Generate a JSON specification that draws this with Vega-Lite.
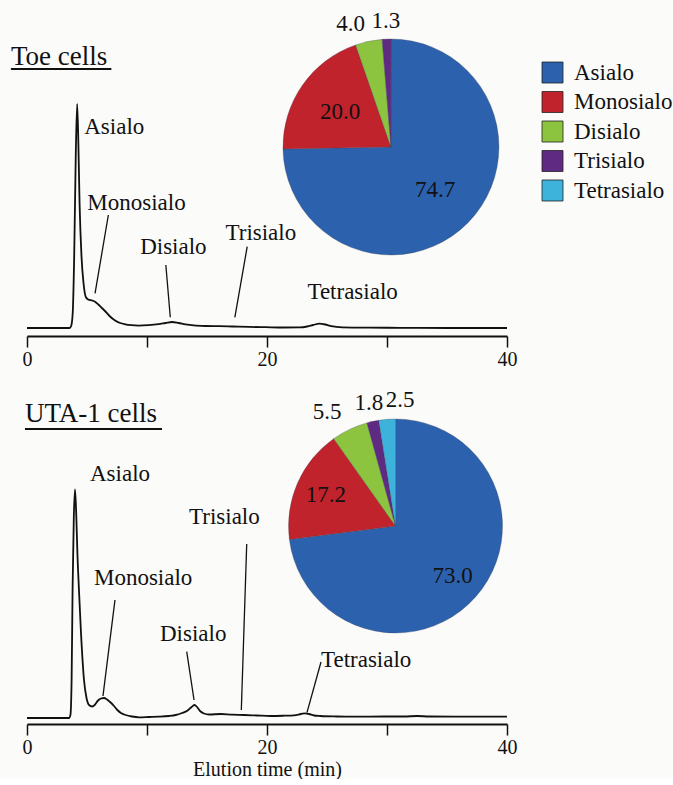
{
  "$schema": "https://vega.github.io/schema/vega-lite/v6.json",
  "background": "#fbfbf9",
  "padding": {"left": 10, "top": 10, "right": 0, "bottom": 0},
  "bounds": "flush",
  "spacing": 88,
  "config": {
    "font": "Liberation Serif",
    "view": {"stroke": null},
    "axis": {
      "domainColor": "#111", "domainWidth": 2,
      "tickColor": "#111", "tickWidth": 1.5, "tickSize": 11,
      "labelFont": "Liberation Serif", "labelFontSize": 20, "labelColor": "#111", "labelPadding": 2, "labelFlush": false,
      "titleFont": "Liberation Serif", "titleFontSize": 20, "titleFontWeight": "normal", "titleColor": "#111", "titlePadding": 2,
      "grid": false
    }
  },
  "datasets": {
    "toe_trace": [
      {"time": 0, "signal": 0}, {"time": 1.8, "signal": 0}, {"time": 3.55, "signal": 0}, {"time": 3.68, "signal": 2},
      {"time": 3.81, "signal": 15}, {"time": 3.93, "signal": 70}, {"time": 4.06, "signal": 170}, {"time": 4.18, "signal": 224},
      {"time": 4.28, "signal": 185}, {"time": 4.38, "signal": 125}, {"time": 4.54, "signal": 72}, {"time": 4.71, "signal": 45},
      {"time": 4.9, "signal": 31}, {"time": 5.1, "signal": 28.5}, {"time": 5.44, "signal": 27.5}, {"time": 5.7, "signal": 26},
      {"time": 5.94, "signal": 23.5}, {"time": 6.2, "signal": 20.5}, {"time": 6.5, "signal": 17}, {"time": 6.92, "signal": 11.5},
      {"time": 7.34, "signal": 7.5}, {"time": 7.76, "signal": 5}, {"time": 8.18, "signal": 3.7}, {"time": 8.7, "signal": 2.8},
      {"time": 9.29, "signal": 2.4}, {"time": 10.13, "signal": 2.8}, {"time": 10.96, "signal": 3.8}, {"time": 11.55, "signal": 5},
      {"time": 12.08, "signal": 6}, {"time": 12.64, "signal": 5}, {"time": 13.2, "signal": 3.7}, {"time": 13.9, "signal": 2.6},
      {"time": 14.87, "signal": 2}, {"time": 16.0, "signal": 1.8}, {"time": 17.1, "signal": 1.5}, {"time": 18.5, "signal": 1.1},
      {"time": 19.9, "signal": 0.8}, {"time": 21.4, "signal": 0.5}, {"time": 22.7, "signal": 0.6}, {"time": 23.35, "signal": 1.5},
      {"time": 23.85, "signal": 3}, {"time": 24.35, "signal": 4.3}, {"time": 24.85, "signal": 3.5}, {"time": 25.36, "signal": 1.8},
      {"time": 26.28, "signal": 0.6}, {"time": 28.5, "signal": 0.3}, {"time": 31.05, "signal": 0.2}, {"time": 35.2, "signal": 0},
      {"time": 40, "signal": 0}
    ],
    "uta_trace": [
      {"time": 0, "signal": 0}, {"time": 1.8, "signal": 0}, {"time": 3.5, "signal": 0}, {"time": 3.62, "signal": 3},
      {"time": 3.72, "signal": 40}, {"time": 3.8, "signal": 130}, {"time": 3.9, "signal": 200}, {"time": 4.0, "signal": 228.7},
      {"time": 4.1, "signal": 205}, {"time": 4.2, "signal": 165}, {"time": 4.33, "signal": 128}, {"time": 4.5, "signal": 85},
      {"time": 4.75, "signal": 38}, {"time": 4.96, "signal": 20}, {"time": 5.17, "signal": 13}, {"time": 5.44, "signal": 11.5},
      {"time": 5.67, "signal": 13.5}, {"time": 5.92, "signal": 17.5}, {"time": 6.17, "signal": 19.5}, {"time": 6.42, "signal": 20},
      {"time": 6.67, "signal": 18.5}, {"time": 6.97, "signal": 15.5}, {"time": 7.25, "signal": 12}, {"time": 7.53, "signal": 8},
      {"time": 7.83, "signal": 5}, {"time": 8.22, "signal": 3}, {"time": 8.75, "signal": 1.5}, {"time": 9.33, "signal": 0.7},
      {"time": 10.17, "signal": 1}, {"time": 11.0, "signal": 1.3}, {"time": 11.83, "signal": 2}, {"time": 12.39, "signal": 3},
      {"time": 12.92, "signal": 5}, {"time": 13.36, "signal": 7.3}, {"time": 13.67, "signal": 10.5}, {"time": 13.96, "signal": 13},
      {"time": 14.17, "signal": 11}, {"time": 14.42, "signal": 7}, {"time": 14.75, "signal": 4.5}, {"time": 15.17, "signal": 3.5},
      {"time": 16.14, "signal": 4}, {"time": 17.08, "signal": 3.3}, {"time": 18.08, "signal": 3}, {"time": 19.17, "signal": 2.5},
      {"time": 20.31, "signal": 2}, {"time": 21.42, "signal": 2.3}, {"time": 22.25, "signal": 2.7}, {"time": 22.83, "signal": 4},
      {"time": 23.17, "signal": 4.7}, {"time": 23.5, "signal": 4}, {"time": 23.92, "signal": 2.5}, {"time": 24.47, "signal": 2},
      {"time": 25.83, "signal": 1.5}, {"time": 27.25, "signal": 1.3}, {"time": 29.75, "signal": 1.5}, {"time": 31.42, "signal": 1.5},
      {"time": 32.5, "signal": 2}, {"time": 33.5, "signal": 1.5}, {"time": 35.58, "signal": 1.3}, {"time": 38.08, "signal": 1.3},
      {"time": 40, "signal": 1.3}
    ],
    "toe_peaks": [
      {"peak": "Asialo", "t": 4.77, "s": 201},
      {"peak": "Monosialo", "t": 5.02, "s": 125.3},
      {"peak": "Disialo", "t": 9.43, "s": 81.3},
      {"peak": "Trisialo", "t": 16.54, "s": 95.3},
      {"peak": "Tetrasialo", "t": 23.37, "s": 36.3}
    ],
    "toe_leaders": [
      {"peak": "Monosialo", "t1": 6.78, "s1": 113, "t2": 5.67, "s2": 34.7},
      {"peak": "Disialo", "t1": 11.57, "s1": 63, "t2": 11.94, "s2": 10.7},
      {"peak": "Trisialo", "t1": 18.35, "s1": 81.3, "t2": 17.32, "s2": 10.7}
    ],
    "uta_peaks": [
      {"peak": "Asialo", "t": 5.25, "s": 244},
      {"peak": "Monosialo", "t": 5.58, "s": 139.7},
      {"peak": "Disialo", "t": 11.08, "s": 84},
      {"peak": "Trisialo", "t": 13.5, "s": 201.3},
      {"peak": "Tetrasialo", "t": 24.5, "s": 58}
    ],
    "uta_leaders": [
      {"peak": "Monosialo", "t1": 7.33, "s1": 118, "t2": 6.33, "s2": 22},
      {"peak": "Disialo", "t1": 13.31, "s1": 66.3, "t2": 13.92, "s2": 18},
      {"peak": "Trisialo", "t1": 18.31, "s1": 174, "t2": 17.86, "s2": 8},
      {"peak": "Tetrasialo", "t1": 24.5, "s1": 56, "t2": 23.33, "s2": 5.3}
    ],
    "toe_pie": [
      {"category": "Asialo", "n_sia": 0, "value": 74.7},
      {"category": "Monosialo", "n_sia": 1, "value": 20.0},
      {"category": "Disialo", "n_sia": 2, "value": 4.0},
      {"category": "Trisialo", "n_sia": 3, "value": 1.3},
      {"category": "Tetrasialo", "n_sia": 4, "value": 0}
    ],
    "uta_pie": [
      {"category": "Asialo", "n_sia": 0, "value": 73.0},
      {"category": "Monosialo", "n_sia": 1, "value": 17.2},
      {"category": "Disialo", "n_sia": 2, "value": 5.5},
      {"category": "Trisialo", "n_sia": 3, "value": 1.8},
      {"category": "Tetrasialo", "n_sia": 4, "value": 2.5}
    ]
  },
  "resolve": {
    "scale": {"color": "independent", "theta": "independent", "radius": "independent"},
    "legend": {"color": "independent"}
  },
  "vconcat": [
    {
      "width": 480,
      "height": 300,
      "layer": [
        {
          "data": {"name": "toe_trace"},
          "mark": {"type": "line", "color": "#111", "strokeWidth": 1.8, "interpolate": "monotone"},
          "encoding": {
            "x": {"field": "time", "type": "quantitative", "scale": {"domain": [0, 40], "nice": false, "zero": false},
                  "axis": {"values": [0, 10, 20, 30, 40], "labelExpr": "datum.value % 20 === 0 ? datum.label : ''", "title": null}},
            "y": {"field": "signal", "type": "quantitative", "scale": {"domain": [-8, 292], "nice": false, "zero": false}, "axis": null}
          }
        },
        {
          "data": {"name": "toe_peaks"},
          "mark": {"type": "text", "align": "left", "baseline": "middle", "font": "Liberation Serif", "fontSize": 23, "color": "#111"},
          "encoding": {
            "x": {"field": "t", "type": "quantitative"},
            "y": {"field": "s", "type": "quantitative", "axis": null},
            "text": {"field": "peak"}
          }
        },
        {
          "data": {"name": "toe_leaders"},
          "mark": {"type": "rule", "color": "#111", "strokeWidth": 1.3},
          "encoding": {
            "x": {"field": "t1", "type": "quantitative"},
            "y": {"field": "s1", "type": "quantitative", "axis": null},
            "x2": {"field": "t2"},
            "y2": {"field": "s2"}
          }
        },
        {
          "data": {"values": [{"cells": "Toe cells"}]},
          "mark": {"type": "text", "align": "left", "baseline": "alphabetic", "font": "Liberation Serif", "fontSize": 27, "color": "#111"},
          "encoding": {
            "x": {"datum": -1.34, "type": "quantitative"},
            "y": {"datum": 263, "type": "quantitative", "axis": null},
            "text": {"field": "cells"}
          }
        },
        {
          "data": {"values": [{"cells": "Toe cells"}]},
          "mark": {"type": "rule", "color": "#111", "strokeWidth": 1.8},
          "encoding": {
            "x": {"datum": -1.34, "type": "quantitative"},
            "x2": {"datum": 7.03},
            "y": {"datum": 259, "type": "quantitative", "axis": null}
          }
        },
        {
          "data": {"name": "toe_pie"},
          "transform": [{"filter": "datum.value > 0"}],
          "mark": {"type": "arc", "outerRadius": 108, "stroke": "#3b3b55", "strokeWidth": 0.5, "strokeOpacity": 0.6},
          "encoding": {
            "x": {"datum": 30.33, "type": "quantitative"},
            "y": {"datum": 181, "type": "quantitative", "axis": null},
            "theta": {"field": "value", "type": "quantitative", "stack": true},
            "order": {"field": "n_sia", "type": "quantitative"},
            "color": {
              "field": "category", "type": "nominal",
              "scale": {
                "domain": ["Asialo", "Monosialo", "Disialo", "Trisialo", "Tetrasialo"],
                "range": ["#2c62ad", "#c0232c", "#8cc43f", "#5f2a82", "#3db3dc"]
              },
              "legend": {
                "title": null, "orient": "none", "legendX": 514, "legendY": 25, "padding": 0,
                "symbolType": "square", "symbolSize": 441, "symbolStrokeColor": "#222", "symbolStrokeWidth": 0.8,
                "labelFont": "Liberation Serif", "labelFontSize": 23, "labelColor": "#111", "labelOffset": 10,
                "rowPadding": 4.5, "labelLimit": 200
              }
            }
          }
        },
        {
          "data": {"name": "toe_pie"},
          "mark": {"type": "text", "align": "center", "baseline": "middle", "font": "Liberation Serif", "fontSize": 23, "color": "#111"},
          "encoding": {
            "x": {"datum": 30.33, "type": "quantitative"},
            "y": {"datum": 181, "type": "quantitative", "axis": null},
            "theta": {"field": "value", "type": "quantitative", "stack": true},
            "order": {"field": "n_sia", "type": "quantitative"},
            "radius": {"field": "value", "type": "quantitative", "scale": {"type": "linear", "domain": [6, 10], "range": [126, 62], "clamp": true}},
            "text": {"field": "value", "type": "quantitative", "format": ".1f"},
            "opacity": {"condition": {"test": "datum.category === 'Disialo' || datum.category === 'Tetrasialo' || datum.value === 0", "value": 0}, "value": 1}
          }
        },
        {
          "data": {"name": "toe_pie"},
          "mark": {"type": "text", "align": "right", "baseline": "middle", "font": "Liberation Serif", "fontSize": 23, "color": "#111"},
          "encoding": {
            "x": {"datum": 30.33, "type": "quantitative"},
            "y": {"datum": 181, "type": "quantitative", "axis": null},
            "theta": {"field": "value", "type": "quantitative", "stack": true},
            "order": {"field": "n_sia", "type": "quantitative"},
            "radius": {"field": "value", "type": "quantitative", "scale": {"type": "linear", "domain": [6, 10], "range": [126, 62], "clamp": true}},
            "text": {"field": "value", "type": "quantitative", "format": ".1f"},
            "opacity": {"condition": {"test": "datum.category === 'Disialo' && datum.value > 0", "value": 1}, "value": 0}
          }
        },
        {
          "data": {"name": "toe_pie"},
          "mark": {"type": "text", "align": "left", "baseline": "middle", "font": "Liberation Serif", "fontSize": 23, "color": "#111"},
          "encoding": {
            "x": {"datum": 30.33, "type": "quantitative"},
            "y": {"datum": 181, "type": "quantitative", "axis": null},
            "theta": {"field": "value", "type": "quantitative", "stack": true},
            "order": {"field": "n_sia", "type": "quantitative"},
            "radius": {"field": "value", "type": "quantitative", "scale": {"type": "linear", "domain": [6, 10], "range": [126, 62], "clamp": true}},
            "text": {"field": "value", "type": "quantitative", "format": ".1f"},
            "opacity": {"condition": {"test": "datum.category === 'Tetrasialo' && datum.value > 0", "value": 1}, "value": 0}
          }
        }
      ]
    },
    {
      "width": 480,
      "height": 300,
      "layer": [
        {
          "data": {"name": "uta_trace"},
          "mark": {"type": "line", "color": "#111", "strokeWidth": 1.8, "interpolate": "monotone"},
          "encoding": {
            "x": {"field": "time", "type": "quantitative", "scale": {"domain": [0, 40], "nice": false, "zero": false},
                  "axis": {"values": [0, 10, 20, 30, 40], "labelExpr": "datum.value % 20 === 0 ? datum.label : ''", "title": "Elution time (min)"}},
            "y": {"field": "signal", "type": "quantitative", "scale": {"domain": [-6, 294], "nice": false, "zero": false}, "axis": null}
          }
        },
        {
          "data": {"name": "uta_peaks"},
          "mark": {"type": "text", "align": "left", "baseline": "middle", "font": "Liberation Serif", "fontSize": 23, "color": "#111"},
          "encoding": {
            "x": {"field": "t", "type": "quantitative"},
            "y": {"field": "s", "type": "quantitative", "axis": null},
            "text": {"field": "peak"}
          }
        },
        {
          "data": {"name": "uta_leaders"},
          "mark": {"type": "rule", "color": "#111", "strokeWidth": 1.3},
          "encoding": {
            "x": {"field": "t1", "type": "quantitative"},
            "y": {"field": "s1", "type": "quantitative", "axis": null},
            "x2": {"field": "t2"},
            "y2": {"field": "s2"}
          }
        },
        {
          "data": {"values": [{"cells": "UTA-1 cells"}]},
          "mark": {"type": "text", "align": "left", "baseline": "alphabetic", "font": "Liberation Serif", "fontSize": 27, "color": "#111"},
          "encoding": {
            "x": {"datum": -0.17, "type": "quantitative"},
            "y": {"datum": 296, "type": "quantitative", "axis": null},
            "text": {"field": "cells"}
          }
        },
        {
          "data": {"values": [{"cells": "UTA-1 cells"}]},
          "mark": {"type": "rule", "color": "#111", "strokeWidth": 1.8},
          "encoding": {
            "x": {"datum": -0.17, "type": "quantitative"},
            "x2": {"datum": 11.25},
            "y": {"datum": 289, "type": "quantitative", "axis": null}
          }
        },
        {
          "data": {"name": "uta_pie"},
          "transform": [{"filter": "datum.value > 0"}],
          "mark": {"type": "arc", "outerRadius": 107, "stroke": "#3b3b55", "strokeWidth": 0.5, "strokeOpacity": 0.6},
          "encoding": {
            "x": {"datum": 30.71, "type": "quantitative"},
            "y": {"datum": 192, "type": "quantitative", "axis": null},
            "theta": {"field": "value", "type": "quantitative", "stack": true},
            "order": {"field": "n_sia", "type": "quantitative"},
            "color": {
              "field": "category", "type": "nominal",
              "scale": {
                "domain": ["Asialo", "Monosialo", "Disialo", "Trisialo", "Tetrasialo"],
                "range": ["#2c62ad", "#c0232c", "#8cc43f", "#5f2a82", "#3db3dc"]
              },
              "legend": null
            }
          }
        },
        {
          "data": {"name": "uta_pie"},
          "mark": {"type": "text", "align": "center", "baseline": "middle", "font": "Liberation Serif", "fontSize": 23, "color": "#111"},
          "encoding": {
            "x": {"datum": 30.71, "type": "quantitative"},
            "y": {"datum": 192, "type": "quantitative", "axis": null},
            "theta": {"field": "value", "type": "quantitative", "stack": true},
            "order": {"field": "n_sia", "type": "quantitative"},
            "radius": {"field": "value", "type": "quantitative", "scale": {"type": "linear", "domain": [6, 10], "range": [126, 76], "clamp": true}},
            "text": {"field": "value", "type": "quantitative", "format": ".1f"},
            "opacity": {"condition": {"test": "datum.category === 'Disialo' || datum.category === 'Tetrasialo' || datum.value === 0", "value": 0}, "value": 1}
          }
        },
        {
          "data": {"name": "uta_pie"},
          "mark": {"type": "text", "align": "right", "baseline": "middle", "font": "Liberation Serif", "fontSize": 23, "color": "#111"},
          "encoding": {
            "x": {"datum": 30.71, "type": "quantitative"},
            "y": {"datum": 192, "type": "quantitative", "axis": null},
            "theta": {"field": "value", "type": "quantitative", "stack": true},
            "order": {"field": "n_sia", "type": "quantitative"},
            "radius": {"field": "value", "type": "quantitative", "scale": {"type": "linear", "domain": [6, 10], "range": [126, 76], "clamp": true}},
            "text": {"field": "value", "type": "quantitative", "format": ".1f"},
            "opacity": {"condition": {"test": "datum.category === 'Disialo' && datum.value > 0", "value": 1}, "value": 0}
          }
        },
        {
          "data": {"name": "uta_pie"},
          "mark": {"type": "text", "align": "left", "baseline": "middle", "font": "Liberation Serif", "fontSize": 23, "color": "#111"},
          "encoding": {
            "x": {"datum": 30.71, "type": "quantitative"},
            "y": {"datum": 192, "type": "quantitative", "axis": null},
            "theta": {"field": "value", "type": "quantitative", "stack": true},
            "order": {"field": "n_sia", "type": "quantitative"},
            "radius": {"field": "value", "type": "quantitative", "scale": {"type": "linear", "domain": [6, 10], "range": [126, 76], "clamp": true}},
            "text": {"field": "value", "type": "quantitative", "format": ".1f"},
            "opacity": {"condition": {"test": "datum.category === 'Tetrasialo' && datum.value > 0", "value": 1}, "value": 0}
          }
        }
      ]
    }
  ]
}
